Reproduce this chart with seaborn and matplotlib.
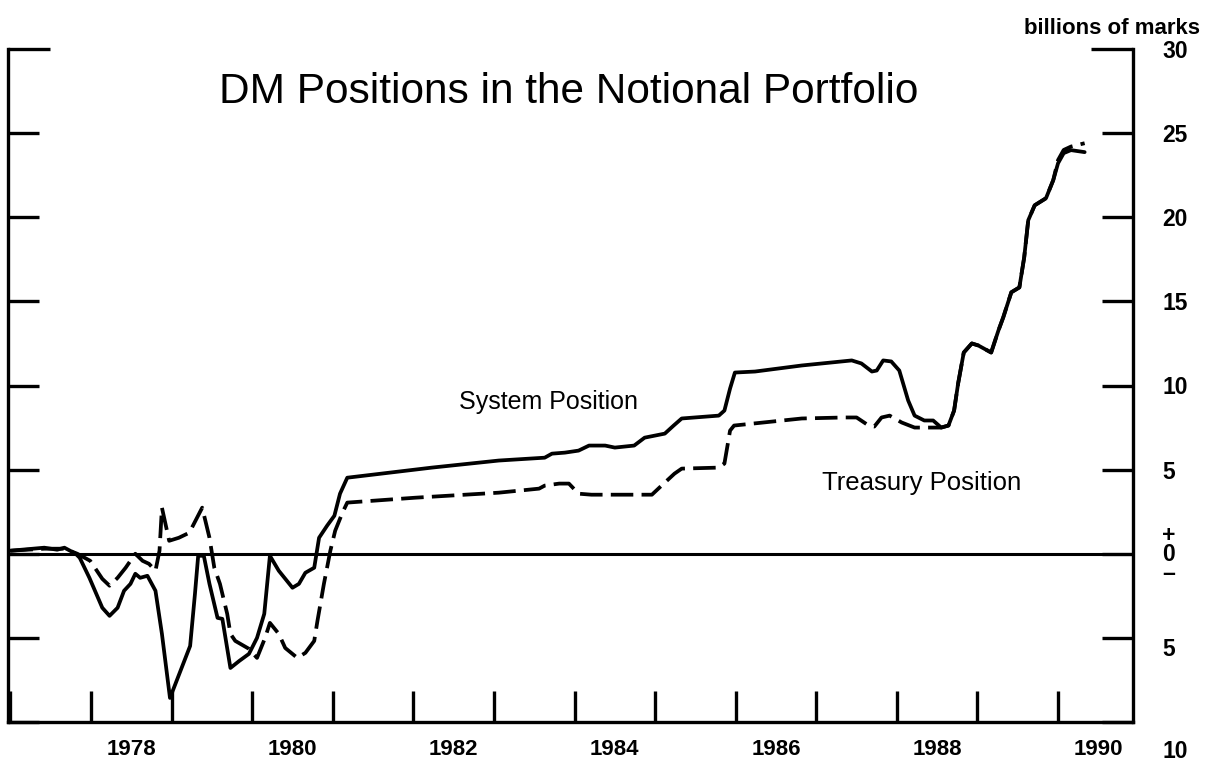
import numpy as np
import pandas as pd
import matplotlib
matplotlib.use("Agg")
import matplotlib.pyplot as plt
import seaborn as sns
from matplotlib.transforms import ScaledTranslation
from matplotlib.ticker import FixedLocator, FixedFormatter, MultipleLocator

# ---------------- data ----------------
system_year = [1977.00, 1977.42, 1977.58, 1977.67, 1977.81, 1977.86, 1977.98, 1978.14, 1978.23,
               1978.33, 1978.41, 1978.49, 1978.55, 1978.61, 1978.70, 1978.80, 1978.88, 1978.98,
               1979.23, 1979.29, 1979.33, 1979.40, 1979.47, 1979.57, 1979.63, 1979.73, 1979.84,
               1979.96, 1980.06, 1980.15, 1980.22, 1980.33, 1980.50, 1980.58, 1980.66, 1980.77,
               1980.83, 1980.93, 1981.02, 1981.09, 1981.18, 1982.23, 1983.06, 1983.63, 1983.72,
               1983.88, 1984.05, 1984.18, 1984.38, 1984.50, 1984.74, 1984.87, 1985.12, 1985.23,
               1985.33, 1985.79, 1985.86, 1985.93, 1985.99, 1986.24, 1986.82, 1987.44, 1987.56,
               1987.69, 1987.75, 1987.83, 1987.93, 1988.03, 1988.14, 1988.22, 1988.34, 1988.45,
               1988.55, 1988.64, 1988.71, 1988.76, 1988.83, 1988.93, 1989.01, 1989.17, 1989.26,
               1989.32, 1989.42, 1989.52, 1989.58, 1989.63, 1989.71, 1989.85, 1989.94, 1990.00,
               1990.07, 1990.16, 1990.33]
system_value = [0.18, 0.36, 0.24, 0.36, 0.00, -0.24, -1.43, -3.21, -3.69,
                -3.21, -2.20, -1.79, -1.19, -1.43, -1.31, -2.20, -4.76, -8.57,
                -5.48, -2.38, -0.12, -0.12, -1.79, -3.81, -3.87, -6.79, -6.37,
                -5.95, -5.00, -3.57, -0.12, -1.01, -2.02, -1.79, -1.13, -0.83,
                0.95, 1.67, 2.26, 3.57, 4.52, 5.12, 5.54, 5.71, 5.95,
                6.01, 6.13, 6.43, 6.43, 6.31, 6.43, 6.90, 7.14, 7.62,
                8.04, 8.21, 8.51, 9.82, 10.77, 10.83, 11.19, 11.49, 11.31,
                10.83, 10.89, 11.49, 11.43, 10.89, 9.11, 8.21, 7.92, 7.92,
                7.50, 7.62, 8.51, 10.12, 11.96, 12.50, 12.38, 11.96, 13.27,
                14.05, 15.54, 15.83, 17.62, 19.82, 20.71, 21.13, 22.20, 23.21,
                23.81, 23.99, 23.87]

treasury_year = [1977.00, 1977.42, 1977.67, 1977.83, 1977.99, 1978.14, 1978.23, 1978.33, 1978.43,
                 1978.55, 1978.64, 1978.72, 1978.80, 1978.85, 1978.88, 1978.97, 1979.09, 1979.22,
                 1979.38, 1979.47, 1979.53, 1979.60, 1979.69, 1979.73, 1979.79, 1979.96, 1980.06,
                 1980.16, 1980.22, 1980.33, 1980.41, 1980.56, 1980.66, 1980.77, 1980.81, 1980.89,
                 1980.97, 1981.03, 1981.12, 1981.18, 1982.02, 1983.06, 1983.56, 1983.63, 1983.81,
                 1983.93, 1984.05, 1984.21, 1984.96, 1985.08, 1985.24, 1985.33, 1985.79, 1985.86,
                 1985.93, 1985.98, 1986.82, 1987.35, 1987.50, 1987.65, 1987.72, 1987.81, 1987.91,
                 1988.06, 1988.22, 1988.39, 1988.55, 1988.64, 1988.71, 1988.76, 1988.83, 1988.93,
                 1989.01, 1989.17, 1989.26, 1989.32, 1989.42, 1989.52, 1989.58, 1989.63, 1989.71,
                 1989.85, 1989.94, 1990.00, 1990.07, 1990.16, 1990.33]
treasury_value = [0.18, 0.30, 0.30, 0.00, -0.42, -1.49, -1.90, -1.43, -0.83,
                  0.00, -0.42, -0.60, -1.01, 0.18, 2.74, 0.77, 0.95, 1.25,
                  2.74, 0.95, -0.83, -1.79, -3.57, -4.76, -5.18, -5.65, -6.19,
                  -5.00, -4.11, -4.76, -5.60, -6.19, -5.89, -5.18, -3.99, -1.79,
                  0.18, 1.37, 2.44, 3.04, 3.33, 3.63, 3.87, 4.05, 4.17,
                  4.17, 3.57, 3.51, 3.51, 4.05, 4.76, 5.06, 5.12, 5.36,
                  7.32, 7.62, 8.04, 8.10, 8.10, 7.62, 7.56, 8.10, 8.21,
                  7.80, 7.50, 7.50, 7.50, 7.62, 8.51, 10.12, 11.96, 12.50,
                  12.38, 11.96, 13.27, 14.05, 15.54, 15.83, 17.62, 19.82, 20.71,
                  21.13, 22.20, 23.40, 24.00, 24.20, 24.40]

year_labels = ["1978", "1980", "1982", "1984", "1986", "1988", "1990"]
y_tick_values = [-10, -5, 0, 5, 10, 15, 20, 25]
y_tick_labels = ["10", "5", "+\n0\n\u2013", "5", "10", "15", "20", "25"]
y_top_value = [30]
y_top_label = ["30"]

title = "DM Positions in the Notional Portfolio"
unit_label = "billions of marks"

# ---------------- figure ----------------
sns.set_style("white")
plt.rcParams['font.family'] = ['Liberation Sans', 'DejaVu Sans']
plt.rcParams['text.color'] = 'black'
plt.rcParams['xtick.color'] = 'black'
plt.rcParams['ytick.color'] = 'black'
plt.rcParams['xtick.labelcolor'] = 'black'
plt.rcParams['ytick.labelcolor'] = 'black'

W, H = 1210, 761
fig = plt.figure(figsize=(W / 100, H / 100), dpi=100)
ax = fig.add_axes([8 / W, (H - 722) / H, 1125 / W, 673 / H])

df = pd.concat([
    pd.DataFrame({"year": system_year, "value": system_value, "series": "System"}),
    pd.DataFrame({"year": treasury_year, "value": treasury_value, "series": "Treasury"}),
], ignore_index=True)

sns.lineplot(data=df, x="year", y="value", style="series",
             dashes={"System": "", "Treasury": (6.0, 2.2)},
             color="black", linewidth=2.7, estimator=None, sort=False,
             legend=False, ax=ax)
for ln in ax.lines:
    ln.set_solid_joinstyle("round")
ax.lines[0].set_zorder(3)

ax.axhline(0, color="black", lw=2.2, zorder=2)

ax.set_xlim(1976.97, 1990.93)
ax.set_ylim(-10, 30)
ax.set_xlabel("")
ax.set_ylabel("")

for side in ["left", "right", "bottom"]:
    ax.spines[side].set_visible(True)
    ax.spines[side].set_color("black")
    ax.spines[side].set_linewidth(2.4)
ax.spines["top"].set_visible(False)

# y ticks
ax.yaxis.set_major_locator(FixedLocator(y_tick_values))
ax.yaxis.set_major_formatter(FixedFormatter(y_tick_labels))
ax.yaxis.set_minor_locator(FixedLocator(y_top_value))
ax.yaxis.set_minor_formatter(FixedFormatter(y_top_label))
ax.tick_params(axis="y", which="both", direction="in", left=True, right=True,
               labelleft=False, labelright=True, width=2.4, color="black",
               labelsize=16.5, pad=21)
ax.tick_params(axis="y", which="major", length=22)
ax.tick_params(axis="y", which="minor", length=30)

# x ticks
ax.xaxis.set_major_locator(FixedLocator([int(y) + 0.5 for y in year_labels]))
ax.xaxis.set_major_formatter(FixedFormatter(year_labels))
ax.xaxis.set_minor_locator(MultipleLocator(1))
ax.tick_params(axis="x", which="major", length=0, pad=12, labelsize=16)
ax.tick_params(axis="x", which="minor", direction="in", length=22, width=2.4,
               bottom=True, top=False, color="black")

for lbl in ax.get_xticklabels() + ax.get_yticklabels(which="both"):
    lbl.set_fontweight("bold")
    lbl.set_color("black")

ylbls = ax.get_yticklabels()
ylbls[0].set_transform(ylbls[0].get_transform() + ScaledTranslation(0, -0.265, fig.dpi_scale_trans))
ylbls[1].set_transform(ylbls[1].get_transform() + ScaledTranslation(0, -0.09, fig.dpi_scale_trans))
ylbls[2].set_linespacing(0.8)

ax.text(0.498, 0.936, title, transform=ax.transAxes, ha="center", va="center",
        fontsize=30.5, color="black")
ax.text(1982.57, 9.0, "System Position", ha="left", va="center", fontsize=18, color="black")
ax.text(1987.07, 4.23, "Treasury Position", ha="left", va="center", fontsize=18.5, color="black")
fig.text(1200 / W, 1 - 28 / H, unit_label, ha="right", va="center", fontsize=16,
         fontweight="bold", color="black")

fig.savefig("out.png", dpi=100)
